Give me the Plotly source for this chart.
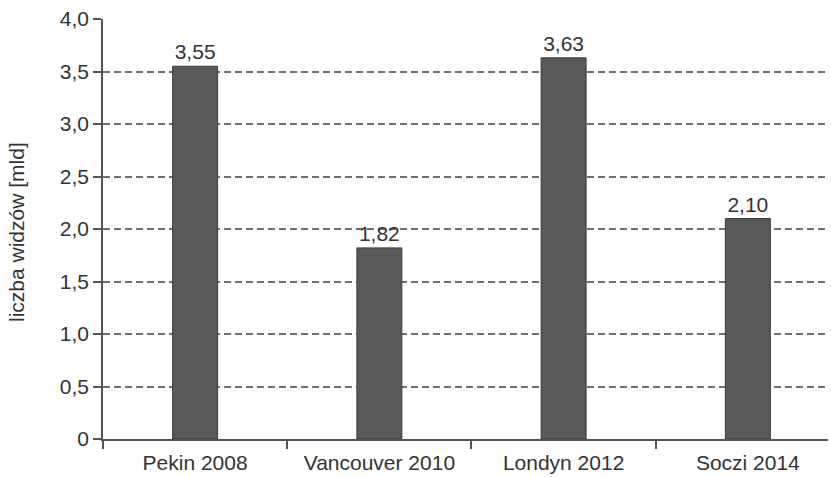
import plotly.graph_objects as go

# Olympic broadcasts: audience in billions of viewers
events = ["Pekin 2008", "Vancouver 2010", "Londyn 2012", "Soczi 2014"]
viewers = [3.55, 1.82, 3.63, 2.10]

# y-axis ticks
y_ticks = [0, 0.5, 1.0, 1.5, 2.0, 2.5, 3.0, 3.5, 4.0]
y_tick_labels = ["0", "0,5", "1,0", "1,5", "2,0", "2,5", "3,0", "3,5", "4,0"]

FONT = "Liberation Sans, Arial, sans-serif"
FS = 21
TEXT_COLOR = "#333333"
AXIS_COLOR = "#555555"

fig = go.Figure(
    go.Bar(
        x=events,
        y=viewers,
        width=0.244,
        marker=dict(color="#595959", line=dict(color="#3a3a3a", width=1)),
        texttemplate="%{y:.2f}",
        textposition="outside",
        textfont=dict(family=FONT, size=FS, color=TEXT_COLOR),
        cliponaxis=False,
    )
)

fig.update_layout(
    width=831,
    height=477,
    margin=dict(l=103, r=3, t=19, b=36),
    paper_bgcolor="white",
    plot_bgcolor="white",
    separators=", ",
    showlegend=False,
    font=dict(family=FONT, size=FS, color=TEXT_COLOR),
)

fig.update_xaxes(
    type="category",
    range=[-0.5, 3.435],
    tickson="boundaries",
    ticks="outside",
    ticklen=8,
    tickwidth=1.5,
    tickcolor=AXIS_COLOR,
    showline=True,
    linecolor=AXIS_COLOR,
    linewidth=1.5,
    showgrid=False,
    ticklabelstandoff=4,
    tickfont=dict(family=FONT, size=FS, color=TEXT_COLOR),
)

fig.update_yaxes(
    range=[0, 4.0],
    tickvals=y_ticks,
    ticktext=y_tick_labels,
    ticks="outside",
    ticklen=8,
    tickwidth=1.5,
    tickcolor=AXIS_COLOR,
    showline=True,
    linecolor=AXIS_COLOR,
    linewidth=1.5,
    showgrid=True,
    gridcolor="#707070",
    gridwidth=1.5,
    griddash="7px,4px",
    zeroline=False,
    tickfont=dict(family=FONT, size=FS, color=TEXT_COLOR),
)

# y-axis title, placed as a rotated annotation
fig.add_annotation(
    text="liczba widzów [mld]",
    textangle=-90,
    xref="paper", yref="paper",
    x=(17 - 103) / 725, y=(441 - 233) / 422,
    xanchor="center", yanchor="middle",
    showarrow=False,
    font=dict(family=FONT, size=FS, color=TEXT_COLOR),
)

fig.write_html("out.html")
